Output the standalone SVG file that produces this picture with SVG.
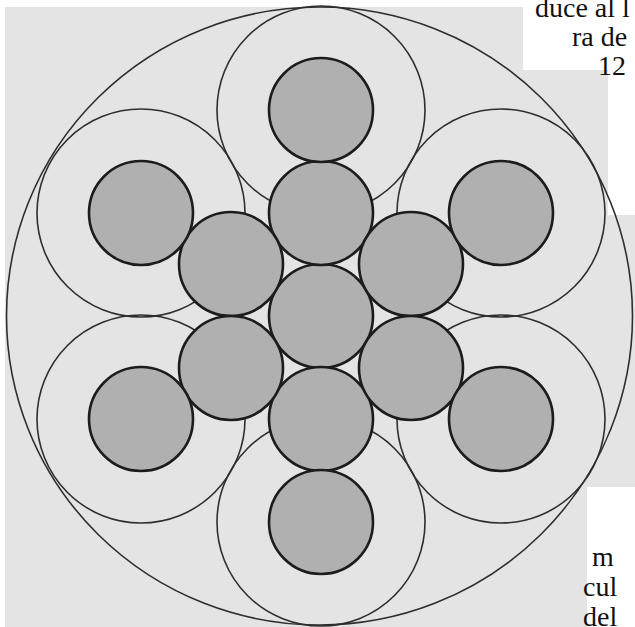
<svg xmlns="http://www.w3.org/2000/svg" width="635" height="627" viewBox="0 0 635 627">
<style>
.ln{fill:none;stroke:#2e2e2e;stroke-width:1.6}
.g{fill:#b0b0b0;stroke:#1c1c1c;stroke-width:2.6}
.t{font-family:"Liberation Serif","Times New Roman",serif;font-size:28px;fill:#111}
</style>
<rect x="0" y="0" width="635" height="627" fill="#ffffff"/>
<polygon id="page" points="5,7 523,7 523,70 608,70 608,215 635,215 635,487 587,487 587,627 5,627" fill="#e4e4e4"/>
<g id="connectors">
<ellipse class="ln" cx="319.5" cy="316" rx="313" ry="309"/>
<circle class="ln" cx="321" cy="110" r="104"/>
<circle class="ln" cx="321" cy="522" r="104"/>
<circle class="ln" cx="141" cy="213" r="104"/>
<circle class="ln" cx="501" cy="213" r="104"/>
<circle class="ln" cx="141" cy="419" r="104"/>
<circle class="ln" cx="501" cy="419" r="104"/>
</g>
<g id="n0"><circle class="g" cx="321" cy="316" r="52"/></g>
<g id="n1"><circle class="g" cx="321" cy="213" r="52"/></g>
<g id="n2"><circle class="g" cx="321" cy="419" r="52"/></g>
<g id="n3"><circle class="g" cx="231" cy="264" r="52"/></g>
<g id="n4"><circle class="g" cx="411" cy="264" r="52"/></g>
<g id="n5"><circle class="g" cx="231" cy="368" r="52"/></g>
<g id="n6"><circle class="g" cx="411" cy="368" r="52"/></g>
<g id="n7"><circle class="g" cx="321" cy="110" r="52"/></g>
<g id="n8"><circle class="g" cx="321" cy="522" r="52"/></g>
<g id="n9"><circle class="g" cx="141" cy="213" r="52"/></g>
<g id="n10"><circle class="g" cx="501" cy="213" r="52"/></g>
<g id="n11"><circle class="g" cx="141" cy="419" r="52"/></g>
<g id="n12"><circle class="g" cx="501" cy="419" r="52"/></g>
<text class="t" x="535" y="17">duce al l</text>
<text class="t" x="572" y="46">ra de</text>
<text class="t" x="598" y="75">12</text>
<text class="t" x="592" y="566">m</text>
<text class="t" x="583" y="596">cul</text>
<text class="t" x="583" y="626">del</text>
</svg>
